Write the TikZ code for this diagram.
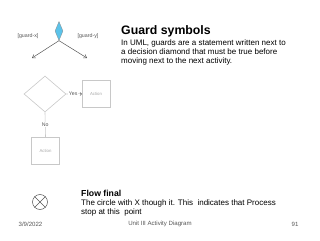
\documentclass[tikz,border=0pt]{standalone}
\usepackage{fontspec}
\setmainfont{Liberation Sans}
\usetikzlibrary{shapes.geometric,arrows.meta}
\definecolor{lgray}{HTML}{C8C8C8}
\definecolor{dgray}{HTML}{555555}
\definecolor{dblue}{HTML}{5BC3EA}
\tikzset{
  ttl/.style={anchor=west,font=\bfseries\fontsize{12.3}{14}\selectfont,inner sep=0pt},
  body/.style={anchor=north west,align=left,font=\fontsize{8}{9}\selectfont,inner sep=0pt},
  guard/.style={font=\fontsize{5.3}{6}\selectfont,text=dgray,inner sep=0.5pt},
  actbox/.style={draw=lgray,line width=0.6pt,minimum width=28pt,minimum height=27pt,font=\fontsize{4.3}{5}\selectfont,text=gray!70,inner sep=0pt},
  arr/.style={draw=dgray,line width=0.5pt,-{Straight Barb[length=3pt,width=4pt]}},
  foot/.style={font=\fontsize{6.1}{7}\selectfont,text=dgray,inner sep=0pt},
  lbl/.style={font=\fontsize{5.2}{6}\selectfont,text=dgray,fill=white,inner sep=0.5pt}
}
\begin{document}
\begin{tikzpicture}[x=1pt,y=-1pt]
\useasboundingbox (0,0) rectangle (320,240);
% guard diamond
\node[diamond,draw=dgray!70,fill=dblue,line width=0.3pt,minimum width=8pt,minimum height=19pt,inner sep=0pt,aspect=0.4] (gd) at (59,31) {};
\coordinate (gl) at (32,58);
\coordinate (gr) at (87,58);
\draw[arr] (gd.south) -- (gl);
\draw[arr] (gd.south) -- (gr);
\node[guard] (gx) at (28,36) {[guard-x]};
\node[guard] (gy) at (88,36) {[guard-y]};
% text
\node[ttl] (t1) at (121,31) {Guard symbols};
\node[body] (b1) at (121,40) {In UML, guards are a statement written next to\\a decision diamond that must be true before\\moving next to the next activity.};
% decision
\node[diamond,draw=lgray,line width=0.6pt,minimum width=42pt,minimum height=36pt,inner sep=0pt] (dd) at (45,94) {};
\node[actbox] (a1) at (96,93.5) {Action};
\node[actbox] (a2) at (45.5,151) {Action};
\draw[draw=lgray,line width=0.6pt] (dd.east) -- (a1.west) node[lbl,pos=0.45]{Yes};
\draw[dgray,line width=0.4pt] (80,92.5) -- (81.5,94) -- (80,95.5);
\draw[draw=lgray,line width=0.6pt] (dd.south) -- (a2.north) node[lbl,pos=0.5]{No};
% flow final
\node[circle,draw=dgray,line width=0.5pt,minimum size=15pt,inner sep=0pt] (ff) at (40,202) {};
\draw[dgray,line width=0.5pt] (ff.north west) -- (ff.south east) (ff.north east) -- (ff.south west);
\node[ttl,font=\bfseries\fontsize{8.7}{10}\selectfont] (t2) at (81,193) {Flow final};
\node[body] (b2) at (81,199.5) {The circle with X though it. This\ \ indicates that Process\\stop at this\ \ point};
% footer
\node[foot] (f1) at (30.5,224) {3/9/2022};
\node[foot] (f2) at (160,224) {Unit III Activity Diagram};
\node[foot] (f3) at (295,224) {91};
\end{tikzpicture}
\end{document}
